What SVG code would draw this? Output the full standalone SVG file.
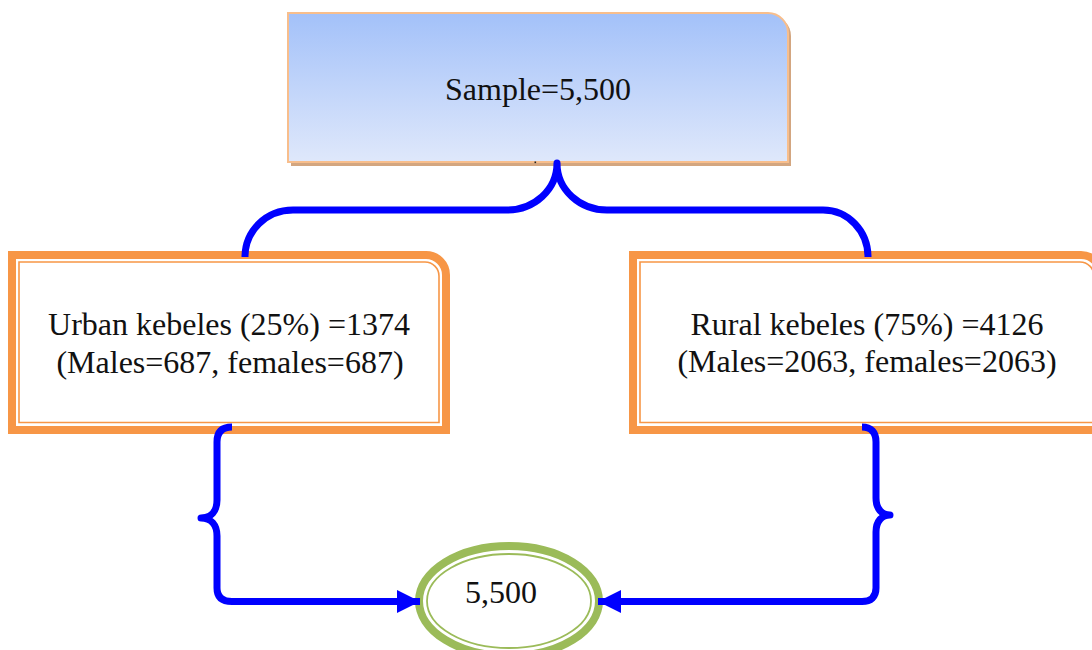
<svg xmlns="http://www.w3.org/2000/svg" width="1092" height="650" viewBox="0 0 1092 650">
  <defs>
    <linearGradient id="sampleFill" x1="0" y1="0" x2="0" y2="1">
      <stop offset="0" stop-color="#A3C1F9"/>
      <stop offset="1" stop-color="#DFE8FB"/>
    </linearGradient>
    <marker id="arrow" markerUnits="userSpaceOnUse" markerWidth="24" markerHeight="24" viewBox="0 0 24 24" refX="23" refY="12" orient="auto">
      <path d="M0,0.5 L23,12 L0,23.5 Z" fill="#0000FF"/>
    </marker>
  </defs>
  <style>
    .label { font-family: "Liberation Serif", "Times New Roman", serif; font-size: 32px; fill: #111111; text-anchor: middle; }
    .band { fill: none; stroke: #F79646; stroke-width: 8; }
    .inner { fill: none; stroke: #F79646; stroke-width: 1.6; }
    .link { fill: none; stroke: #0000FF; stroke-width: 7; stroke-linejoin: round; }
    .ring { fill: #FFFFFF; stroke: #9BBB59; stroke-width: 8; }
    .ringInner { fill: none; stroke: #9BBB59; stroke-width: 1.8; }
  </style>
  <rect width="1092" height="650" fill="#FFFFFF"/>

  <!-- total sample -->
  <g id="sample">
    <path d="M291,16 H771 A20,20 0 0 1 791,36 V166 H291 Z" fill="#D3A680"/>
    <path d="M288,13 H768 A20,20 0 0 1 788,33 V162 H288 Z" fill="url(#sampleFill)" stroke="#F8BE8C" stroke-width="2"/>
    <text class="label" x="538" y="100">Sample=5,500</text>
    <rect x="534.5" y="161.5" width="1.6" height="1.6" fill="#222222"/>
  </g>

  <!-- urban stratum -->
  <g id="urban">
    <path class="band" d="M12,255 H426 A20,20 0 0 1 446,275 V430 H12 Z" fill="#FFFFFF"/>
    <path class="inner" d="M19,262 H425 A14,14 0 0 1 439,276 V422.5 H19 Z"/>
    <text class="label" x="229" y="335">Urban kebeles (25%) =1374</text>
    <text class="label" x="230" y="373">(Males=687, females=687)</text>
  </g>

  <!-- rural stratum -->
  <g id="rural">
    <path class="band" d="M633,255 H1081 A20,20 0 0 1 1101,275 V430 H633 Z" fill="#FFFFFF"/>
    <path class="inner" d="M640,262 H1080 A14,14 0 0 1 1094,276 V422.5 H640 Z"/>
    <text class="label" x="867" y="335">Rural kebeles (75%) =4126</text>
    <text class="label" x="867" y="372">(Males=2063, females=2063)</text>
  </g>

  <!-- combined total -->
  <g id="total">
    <ellipse class="ring" cx="509" cy="601" rx="90" ry="55"/>
    <ellipse class="ringInner" cx="509" cy="601" rx="82" ry="47"/>
    <text class="label" x="501" y="603">5,500</text>
  </g>

  <g id="connectors">
    <path class="link" d="M245,257 C245,231 266,210 293,210 H507 C534,210 557,190 557,163 C557,190 580,210 607,210 H823 C848,210 868,231 868,257"/>
    <path class="link" d="M232,427 C222,427 217,432 217,442 V500 C217,511 211,518 201,518 C211,518 217,525 217,536 V588 C217,597 222,601.5 232,601.5 H420" marker-end="url(#arrow)"/>
    <path class="link" d="M862,427 C871,427 876,432 876,442 V498 C876,509 882,515 890,515 C882,515 876,521 876,532 V588 C876,597 871,601.5 862,601.5 H598" marker-end="url(#arrow)"/>
  </g>
</svg>
